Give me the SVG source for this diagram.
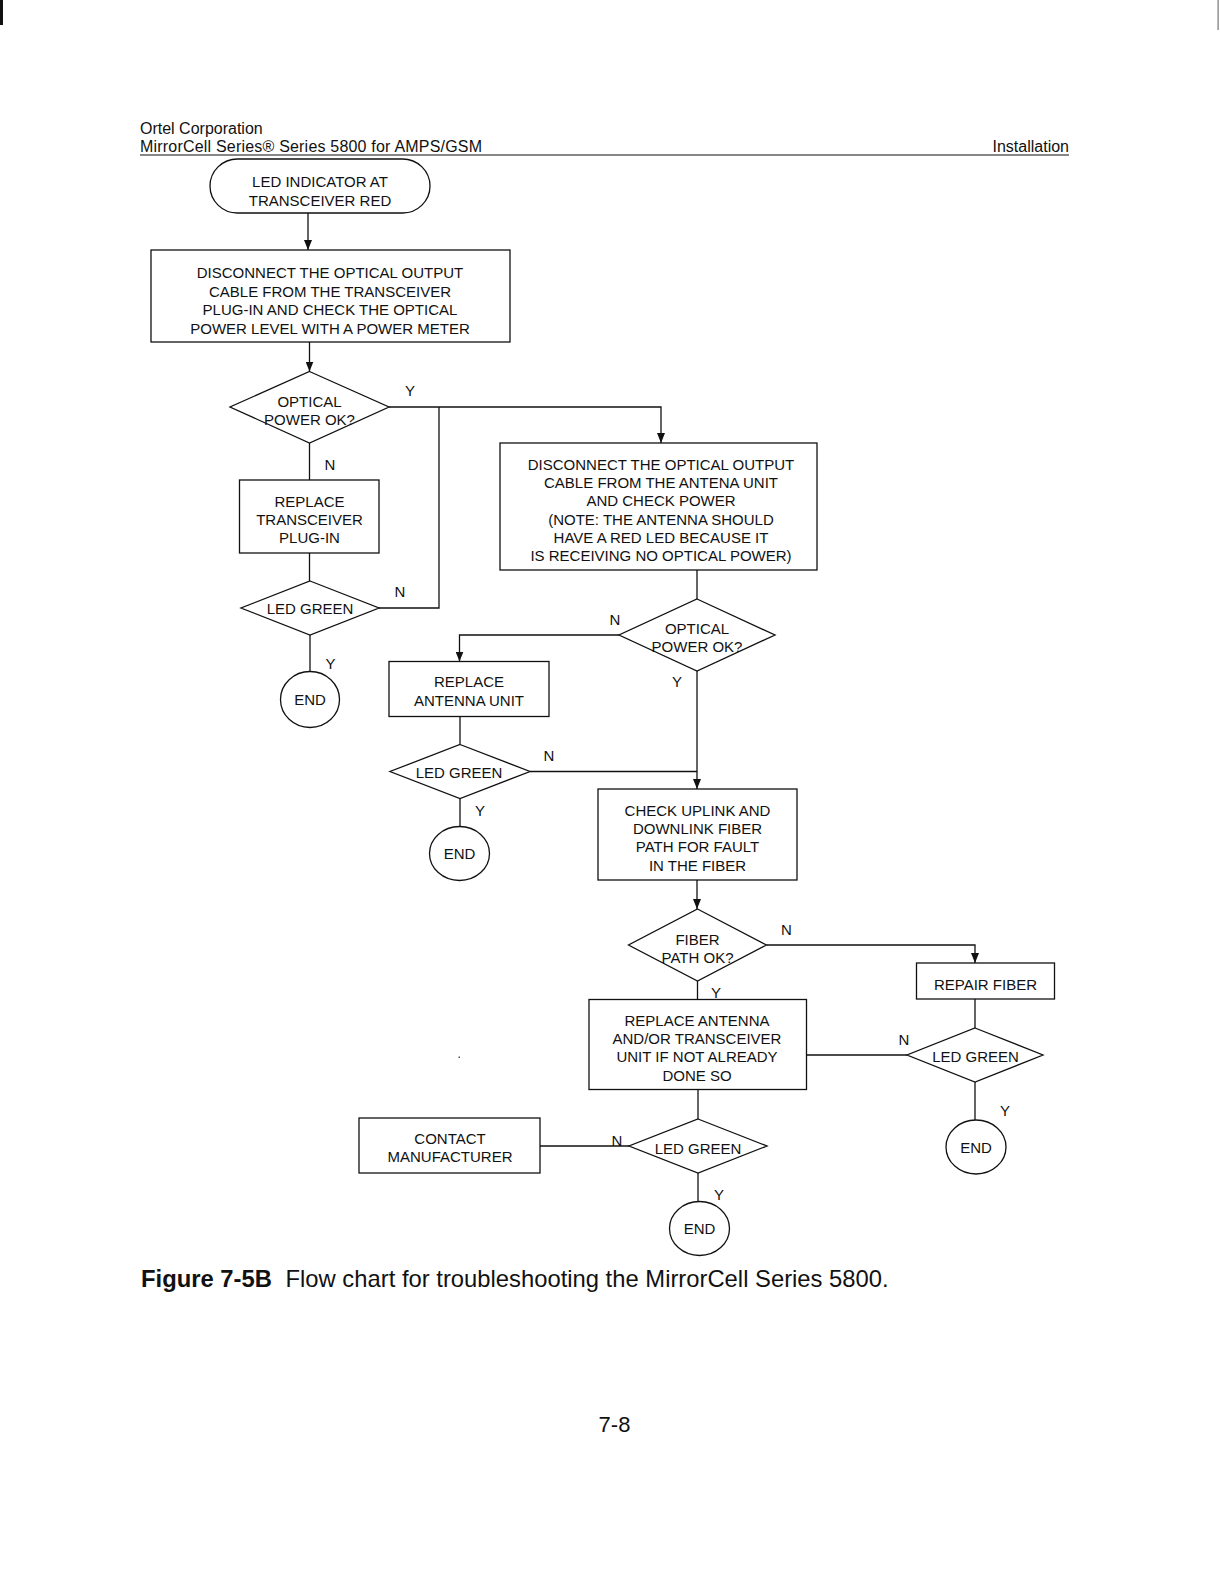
<svg xmlns="http://www.w3.org/2000/svg" width="1220" height="1588" viewBox="0 0 1220 1588">
<defs>
<style>
text{font-family:"Liberation Sans",Arial,sans-serif;fill:#111;}
.t{font-size:15px;text-anchor:middle;}
.l{font-size:15px;text-anchor:middle;}
.h{font-size:16px;}
.s{fill:#fff;stroke:#111;stroke-width:1.3;}
.c{fill:none;stroke:#111;stroke-width:1.3;}
</style>
<marker id="ah" viewBox="0 0 10 8" refX="10" refY="4" markerWidth="10" markerHeight="8" markerUnits="userSpaceOnUse" orient="auto">
<path d="M0,0 L10,4 L0,8 z" fill="#111"/>
</marker>
</defs>
<rect width="1220" height="1588" fill="#fff"/>
<rect x="0" y="0" width="3" height="25" fill="#111"/>
<rect x="1217.5" y="0" width="1.2" height="30" fill="#777"/>

<g id="header">
<text class="h" x="140" y="133.5">Ortel Corporation</text>
<text class="h" x="140" y="151.5" textLength="342" lengthAdjust="spacing">MirrorCell Series® Series 5800 for AMPS/GSM</text>
<text class="h" x="1069" y="151.5" text-anchor="end">Installation</text>
<line x1="140" y1="155" x2="1069" y2="155" stroke="#111" stroke-width="1.2"/>
</g>

<g id="connectors">
<line class="c" x1="308" y1="213" x2="308" y2="250" marker-end="url(#ah)"/>
<line class="c" x1="309.5" y1="342" x2="309.5" y2="371.5" marker-end="url(#ah)"/>
<polyline class="c" points="389,407 661,407 661,443" marker-end="url(#ah)"/>
<polyline class="c" points="379,608 439,608 439,407"/>
<line class="c" x1="309.5" y1="443" x2="309.5" y2="480"/>
<line class="c" x1="309.5" y1="553" x2="309.5" y2="581"/>
<line class="c" x1="310" y1="635" x2="310" y2="671.5"/>
<line class="c" x1="697" y1="570" x2="697" y2="599"/>
<polyline class="c" points="619,635 459.5,635 459.5,661.5" marker-end="url(#ah)"/>
<line class="c" x1="460" y1="716.5" x2="460" y2="744.5"/>
<line class="c" x1="530" y1="771.5" x2="697" y2="771.5"/>
<line class="c" x1="697" y1="671" x2="697" y2="789" marker-end="url(#ah)"/>
<line class="c" x1="460" y1="798.5" x2="460" y2="826.5"/>
<line class="c" x1="697" y1="880" x2="697" y2="909" marker-end="url(#ah)"/>
<polyline class="c" points="766.5,945 975,945 975,963" marker-end="url(#ah)"/>
<line class="c" x1="975" y1="999" x2="975" y2="1028"/>
<line class="c" x1="907" y1="1055" x2="806.5" y2="1055"/>
<line class="c" x1="975" y1="1082" x2="975" y2="1120"/>
<line class="c" x1="697.5" y1="981" x2="697.5" y2="999.5"/>
<line class="c" x1="698" y1="1089.5" x2="698" y2="1119"/>
<line class="c" x1="629" y1="1146" x2="540" y2="1146"/>
<line class="c" x1="698" y1="1173" x2="698" y2="1201.5"/>
<text class="l" x="410" y="396">Y</text>
<text class="l" x="330" y="469.5">N</text>
<text class="l" x="400" y="597">N</text>
<text class="l" x="330.5" y="668.5">Y</text>
<text class="l" x="615" y="624.5">N</text>
<text class="l" x="549" y="760.5">N</text>
<text class="l" x="677" y="687">Y</text>
<text class="l" x="480" y="815.5">Y</text>
<text class="l" x="786.5" y="934.5">N</text>
<text class="l" x="716" y="997.5">Y</text>
<text class="l" x="904" y="1044.5">N</text>
<text class="l" x="1005" y="1116">Y</text>
<text class="l" x="617" y="1146">N</text>
<text class="l" x="719" y="1199.5">Y</text>
</g>

<g id="start">
<rect class="s" x="210" y="159" width="220" height="54" rx="27.5"/>
<text class="t" x="320" y="187">LED INDICATOR AT</text>
<text class="t" x="320" y="205.5">TRANSCEIVER RED</text>
</g>

<g id="box-disconnect-transceiver">
<rect class="s" x="151" y="250" width="359" height="92"/>
<text class="t" x="330" y="278">DISCONNECT THE OPTICAL OUTPUT</text>
<text class="t" x="330" y="296.5">CABLE FROM THE TRANSCEIVER</text>
<text class="t" x="330" y="315">PLUG-IN AND CHECK THE OPTICAL</text>
<text class="t" x="330" y="333.5">POWER LEVEL WITH A POWER METER</text>
</g>

<g id="dec-optical-1">
<polygon class="s" points="309.5,371.5 389,407 309.5,443 230,407"/>
<text class="t" x="309.5" y="406.5">OPTICAL</text>
<text class="t" x="309.5" y="424.5">POWER OK?</text>
</g>

<g id="box-replace-transceiver">
<rect class="s" x="239.5" y="480" width="139.5" height="73"/>
<text class="t" x="309.5" y="506.5">REPLACE</text>
<text class="t" x="309.5" y="524.5">TRANSCEIVER</text>
<text class="t" x="309.5" y="542.5">PLUG-IN</text>
</g>

<g id="dec-led-1">
<polygon class="s" points="310,581 379,608 310,635 241,608"/>
<text class="t" x="310" y="614">LED GREEN</text>
</g>

<g id="end-1">
<ellipse class="s" cx="310" cy="699.5" rx="29.5" ry="28"/>
<text class="t" x="310" y="705">END</text>
</g>

<g id="box-disconnect-antenna">
<rect class="s" x="500" y="443" width="317" height="127"/>
<text class="t" x="661" y="469.5">DISCONNECT THE OPTICAL OUTPUT</text>
<text class="t" x="661" y="488">CABLE FROM THE ANTENA UNIT</text>
<text class="t" x="661" y="506">AND CHECK POWER</text>
<text class="t" x="661" y="524.5">(NOTE: THE ANTENNA SHOULD</text>
<text class="t" x="661" y="542.5">HAVE A RED LED BECAUSE IT</text>
<text class="t" x="661" y="560.5">IS RECEIVING NO OPTICAL POWER)</text>
</g>

<g id="dec-optical-2">
<polygon class="s" points="697,599 775,635 697,671 619,635"/>
<text class="t" x="697" y="633.5">OPTICAL</text>
<text class="t" x="697" y="651.5">POWER OK?</text>
</g>

<g id="box-replace-antenna">
<rect class="s" x="389" y="661.5" width="160" height="55"/>
<text class="t" x="469" y="687">REPLACE</text>
<text class="t" x="469" y="705.5">ANTENNA UNIT</text>
</g>

<g id="dec-led-2">
<polygon class="s" points="460,744.5 530,771.5 460,798.5 390,771.5"/>
<text class="t" x="459" y="778">LED GREEN</text>
</g>

<g id="end-2">
<ellipse class="s" cx="459.5" cy="853.5" rx="30" ry="27"/>
<text class="t" x="459.5" y="859">END</text>
</g>

<g id="box-check-fiber">
<rect class="s" x="598" y="789" width="199" height="91"/>
<text class="t" x="697.5" y="815.5">CHECK UPLINK AND</text>
<text class="t" x="697.5" y="833.5">DOWNLINK FIBER</text>
<text class="t" x="697.5" y="852">PATH FOR FAULT</text>
<text class="t" x="697.5" y="870.5">IN THE FIBER</text>
</g>

<g id="dec-fiber">
<polygon class="s" points="697.5,909 766.5,945 697.5,981 628.5,945"/>
<text class="t" x="697.5" y="944.5">FIBER</text>
<text class="t" x="697.5" y="962.5">PATH OK?</text>
</g>

<g id="box-repair-fiber">
<rect class="s" x="916.5" y="963" width="138" height="36"/>
<text class="t" x="985.5" y="989.5">REPAIR FIBER</text>
</g>

<g id="dec-led-3">
<polygon class="s" points="975,1028 1043,1055 975,1082 907,1055"/>
<text class="t" x="975.5" y="1061.5">LED GREEN</text>
</g>

<g id="end-3">
<ellipse class="s" cx="976" cy="1147" rx="30" ry="27"/>
<text class="t" x="976" y="1152.5">END</text>
</g>

<g id="box-replace-unit">
<rect class="s" x="589" y="999.5" width="217.5" height="90"/>
<text class="t" x="697" y="1025.5">REPLACE ANTENNA</text>
<text class="t" x="697" y="1043.5">AND/OR TRANSCEIVER</text>
<text class="t" x="697" y="1062">UNIT IF NOT ALREADY</text>
<text class="t" x="697" y="1080.5">DONE SO</text>
</g>

<g id="dec-led-4">
<polygon class="s" points="698,1119 767,1146 698,1173 629,1146"/>
<text class="t" x="698" y="1154">LED GREEN</text>
</g>

<g id="box-contact">
<rect class="s" x="359" y="1118" width="181" height="55"/>
<text class="t" x="450" y="1143.5">CONTACT</text>
<text class="t" x="450" y="1162">MANUFACTURER</text>
</g>

<g id="end-4">
<ellipse class="s" cx="699.5" cy="1228.5" rx="30" ry="27"/>
<text class="t" x="699.5" y="1234">END</text>
</g>

<g id="caption">
<text x="141" y="1287" font-size="23.8"><tspan font-weight="bold">Figure 7-5B</tspan><tspan dx="7"> Flow chart for troubleshooting the MirrorCell Series 5800.</tspan></text>
<text x="614.5" y="1432" font-size="22" text-anchor="middle">7-8</text>
</g>
<rect x="458.5" y="1056.5" width="1.5" height="1.5" fill="#555"/>
</svg>
